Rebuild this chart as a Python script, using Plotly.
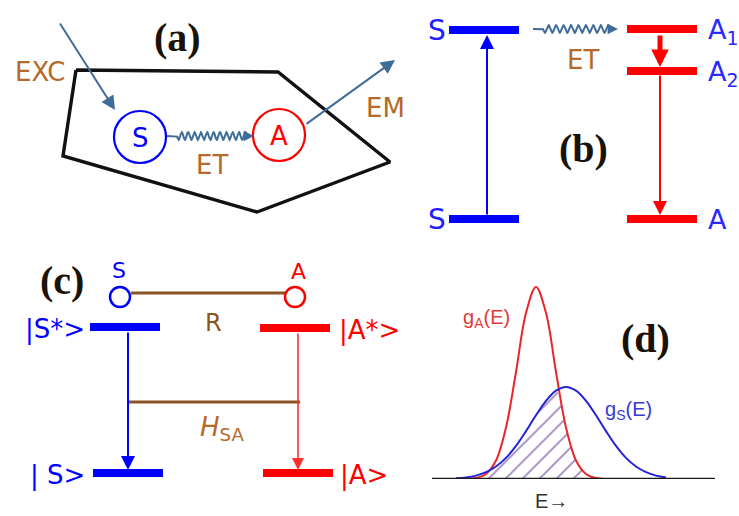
import numpy as np
import plotly.graph_objects as go

W, H = 739, 516

# ---------------- Panel (a): supramolecular cell with sensitizer S and activator A
cell_x = [76, 278, 390, 257, 63, 76]
cell_y = [70, 72, 162, 212, 156, 70]
mol_labels = ["S", "A"]
mol_x = [140, 279]
mol_y = [137, 135]
mol_colors = ["#0000ff", "#ff0000"]

# ---------------- Panel (b): energy levels
b_level_names = ["S", "S", "A<sub>1</sub>", "A<sub>2</sub>", "A"]
b_level_x0 = [449, 449, 627, 627, 627]
b_level_x1 = [519, 519, 697, 697, 697]
b_level_y = [30, 219, 29, 71, 219]
b_level_colors = ["#0000ff", "#0000ff", "#ff0000", "#ff0000", "#ff0000"]

# ---------------- Panel (c): states
c_state_names = ["|S*&gt;", "| S&gt;", "|A*&gt;", "|A&gt;"]
c_state_x0 = [90, 93, 260, 263]
c_state_x1 = [160, 163, 330, 333]
c_state_y = [327, 473, 328, 473]
c_state_label_x = [23, 28, 337, 338]
c_state_colors = ["#0000ff", "#0000ff", "#ff0000", "#ff0000"]

# ---------------- Panel (d): spectral densities
energy = [456, 466, 476, 486, 496, 506, 516, 526, 536, 546, 556, 566,
          576, 586, 596, 606, 616, 626, 636, 646, 656, 666]
g_A = [0, 0, 1.0, 5.0, 18.5, 51.5, 107, 166, 192, 166, 107, 51.5,
       18.5, 5.0, 1.0, 0, 0, 0, 0, 0, 0, 0]
g_S = [0.7, 1.6, 3.4, 6.8, 12.5, 21.1, 33.1, 47.9, 63.7, 78.1, 88.3, 92,
       88.3, 78.1, 63.7, 47.9, 33.1, 21.1, 12.5, 6.8, 3.4, 1.6]
baseline_E = [432, 715]

BROWN_TXT = "#b46a2a"
BROWN_LINE = "#8a5424"
STEEL = "#3f6c98"
LABEL_FONT = "DejaVu Sans"
SERIF = "Liberation Serif"

fig = go.Figure()


def line(xs, ys, color, width, xa="x", ya="y", shape="linear"):
    fig.add_trace(go.Scatter(x=xs, y=ys, mode="lines", xaxis=xa, yaxis=ya,
                             line=dict(color=color, width=width, shape=shape),
                             hoverinfo="skip", showlegend=False))


def squiggle(x0, x1, y, lead, cycles, amp, n=300):
    xs = np.linspace(x0, x1, n)
    ys = np.where(xs < x0 + lead, y,
                  y + amp * np.sin(2 * np.pi * cycles * (xs - x0 - lead) / (x1 - x0 - lead)))
    return xs, ys


annotations = []


def arrow(xh, yh, xt, yt, color, width=2, head=2, size=1.0):
    annotations.append(dict(x=xh, y=yh, ax=xt, ay=yt, xref="x", yref="y",
                            axref="x", ayref="y", text="", showarrow=True,
                            arrowhead=head, arrowsize=size, arrowwidth=width,
                            arrowcolor=color, standoff=0, startstandoff=0))


def label(x, y, text, color, size, font=LABEL_FONT, xanchor="center"):
    annotations.append(dict(x=x, y=y, xref="x", yref="y", text=text, showarrow=False,
                            xanchor=xanchor, yanchor="middle",
                            font=dict(family=font, size=size, color=color)))


# ----- Panel (a)
line(cell_x, cell_y, "#111111", 3.4)
shapes = []
for lab, cx, cy, col in zip(mol_labels, mol_x, mol_y, mol_colors):
    shapes.append(dict(type="circle", xref="x", yref="y", x0=cx - 26, x1=cx + 26,
                       y0=cy - 26, y1=cy + 26, line=dict(color=col, width=2.2)))
    label(cx, cy + 1, lab, col, 26)
sx, sy = squiggle(167, 247, 136, 10, 11, 3.8)
line(sx, sy, STEEL, 2)
arrow(254, 136, 246, 136, STEEL, 1.6, 2, 1.3)
arrow(115, 110, 59, 22, STEEL, 2, 2, 1.4)
arrow(395, 60, 305, 125, STEEL, 2, 2, 1.4)
label(40, 72, "EXC", BROWN_TXT, 26)
label(212, 165, "ET", BROWN_TXT, 26)
label(385, 108, "EM", BROWN_TXT, 26)
label(177, 37, "<b>(a)</b>", "#1a1209", 40, SERIF)

# ----- Panel (b)
for i in range(len(b_level_y)):
    line([b_level_x0[i], b_level_x1[i]], [b_level_y[i], b_level_y[i]], b_level_colors[i], 8)
label(437, 30, "S", "#2020ff", 28)
label(437, 219, "S", "#2020ff", 28)
label(706, 31, b_level_names[2], "#2a2aff", 27, xanchor="left")
label(706, 73, b_level_names[3], "#2a2aff", 27, xanchor="left")
label(706, 219, b_level_names[4], "#2a2aff", 27, xanchor="left")
arrow(487, 35, 487, 216, "#0000ff", 2, 2, 1.4)
arrow(660, 67, 660, 34, "#ff0000", 5, 2, 0.7)
arrow(660, 215, 660, 74, "#ff0000", 2, 2, 1.4)
bx, by = squiggle(533, 610, 29, 10, 9, 3.8)
line(bx, by, STEEL, 2)
arrow(618, 29, 609, 29, STEEL, 1.6, 2, 1.3)
label(583, 60, "ET", BROWN_TXT, 26)
label(583, 148, "<b>(b)</b>", "#1a1209", 40, SERIF)

# ----- Panel (c)
for i in range(len(c_state_y)):
    line([c_state_x0[i], c_state_x1[i]], [c_state_y[i], c_state_y[i]], c_state_colors[i], 8)
    label(c_state_label_x[i], c_state_y[i] + 2, c_state_names[i], c_state_colors[i], 26,
          xanchor="left")
line([131, 286], [293, 293], BROWN_LINE, 3)
line([128, 300], [402, 402], BROWN_LINE, 3)
shapes.append(dict(type="circle", xref="x", yref="y", x0=110, x1=130, y0=287, y1=307,
                   line=dict(color="#0000ff", width=2.5)))
shapes.append(dict(type="circle", xref="x", yref="y", x0=285, x1=305, y0=287, y1=307,
                   line=dict(color="#ff0000", width=2.5)))
label(119, 270, "S", "#0000ff", 22)
label(298, 271, "A", "#ff0000", 22)
label(213, 323, "R", BROWN_LINE, 24)
label(222, 428, "<i>H</i><sub>SA</sub>", BROWN_TXT, 26)
arrow(128, 470, 128, 331, "#0000ff", 2, 2, 1.4)
arrow(298, 470, 298, 332, "#ff3030", 1.6, 2, 1.5)
label(62, 280, "<b>(c)</b>", "#1a1209", 40, SERIF)

# ----- Panel (d)
overlap = [min(a, s) for a, s in zip(g_A, g_S)]
fig.add_trace(go.Scatter(x=energy, y=overlap, mode="lines", xaxis="x", yaxis="y2",
                         line=dict(width=0, shape="spline"), fill="tozeroy",
                         fillcolor="rgba(0,0,0,0)",
                         fillpattern=dict(shape="/", fgcolor="#4a1a7a",
                                          bgcolor="rgba(0,0,0,0)", size=12,
                                          solidity=0.16),
                         hoverinfo="skip", showlegend=False))
line(energy, g_A, "#e8262a", 2, ya="y2", shape="spline")
line(energy, g_S, "#2323d8", 2, ya="y2", shape="spline")
line(baseline_E, [0, 0], "#1a1a1a", 2.6, ya="y2")
label(486, 318, "g<sub>A</sub>(E)", "#e33a3a", 20, "Liberation Sans")
label(628, 410, "g<sub>S</sub>(E)", "#3a3ad0", 20, "Liberation Sans")
label(551, 501, "E→", "#333333", 20, "Liberation Sans")
label(645, 338, "<b>(d)</b>", "#1a1209", 40, SERIF)

fig.update_layout(
    width=W, height=H, margin=dict(l=0, r=0, t=0, b=0),
    paper_bgcolor="white", plot_bgcolor="rgba(0,0,0,0)", showlegend=False,
    xaxis=dict(range=[0, W], visible=False, domain=[0, 1], fixedrange=True),
    yaxis=dict(range=[H, 0], visible=False, domain=[0, 1], fixedrange=True),
    yaxis2=dict(range=[0, H - 37], domain=[37 / H, 1], visible=False, anchor="x",
                fixedrange=True),
    shapes=shapes, annotations=annotations,
)

fig.write_html("out.html")
